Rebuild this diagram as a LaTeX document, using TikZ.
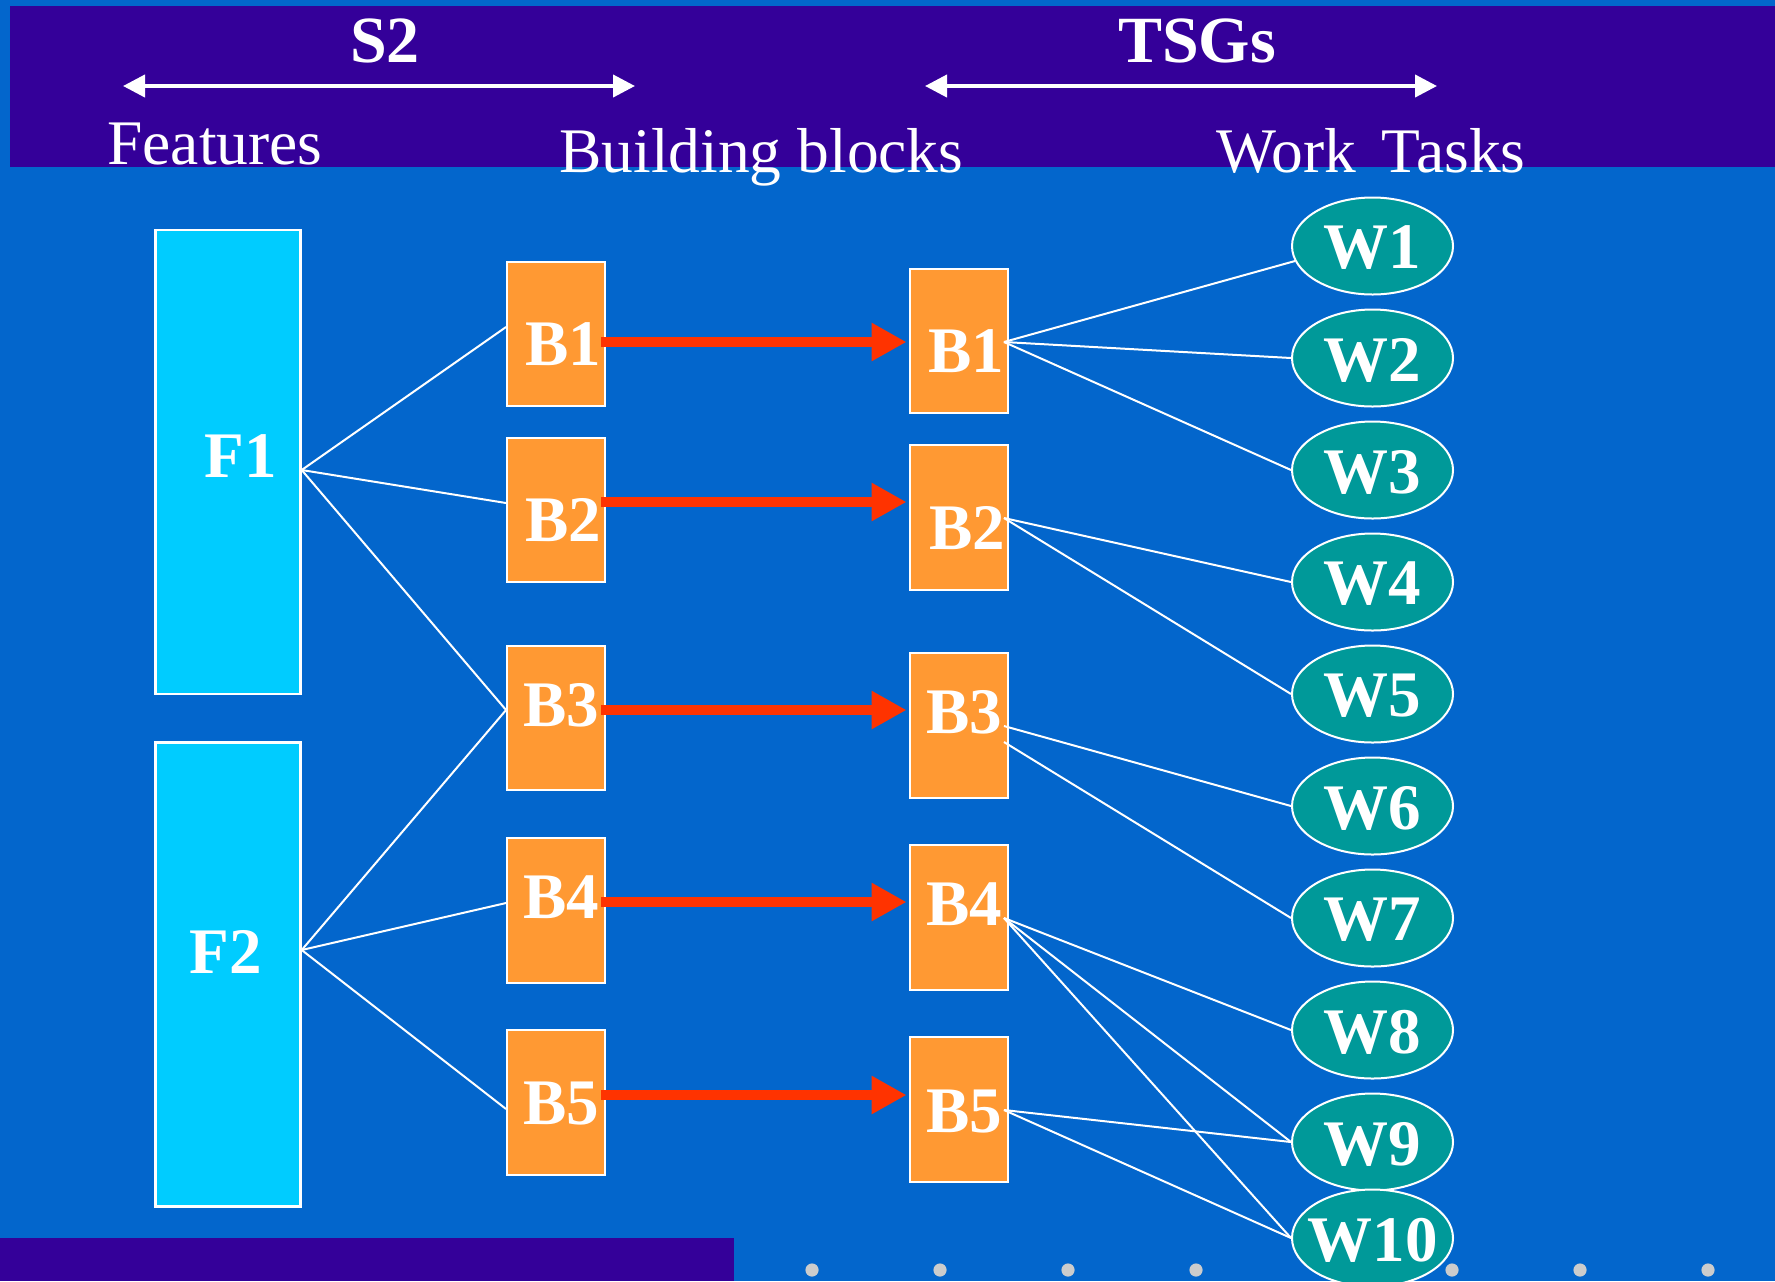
\documentclass[tikz,border=0pt]{standalone}
\usepackage{fontspec}
\setmainfont{Liberation Serif}
\usetikzlibrary{arrows.meta,calc,shapes.geometric}
\definecolor{bgblue}{HTML}{0366CC}
\definecolor{bandpurple}{HTML}{340099}
\definecolor{cyanbox}{HTML}{00CCFF}
\definecolor{orangebox}{HTML}{FF9933}
\definecolor{tealw}{HTML}{009999}
\definecolor{redarrow}{HTML}{FF3300}
\definecolor{dotgrey}{HTML}{CCCCCC}
\newcommand{\boldlabelfont}{\fontsize{32.5}{38}\selectfont\bfseries}
\newcommand{\headfont}{\fontsize{31.75}{38}\selectfont}
\begin{document}
\begin{tikzpicture}[x=0.5pt,y=-0.5pt,
  fbox/.style={draw=white,line width=1.2pt,fill=cyanbox,minimum width=72.5pt,minimum height=232pt,inner sep=0pt},
  bbox/.style={draw=white,line width=1.2pt,fill=orangebox,minimum width=48.75pt,minimum height=72.25pt,inner sep=0pt},
  wnode/.style={ellipse,draw=white,line width=1pt,fill=tealw,minimum width=80.5pt,minimum height=48.5pt,inner sep=0pt},
  lbl/.style={text=white,inner sep=0pt,font=\boldlabelfont},
  head/.style={text=white,inner sep=0pt,font=\headfont},
  boldhead/.style={text=white,inner sep=0pt,font=\fontsize{33}{40}\selectfont\bfseries},
  link/.style={draw=white,line width=1pt},
  span/.style={draw=white,line width=2pt,{Triangle[length=11pt,width=11pt]}-{Triangle[length=11pt,width=11pt]}},
  redarr/.style={draw=redarrow,line width=4.7pt,-{Triangle[length=17.5pt,width=18pt]}}
]
% background and bands
\fill[bgblue] (0,0) rectangle (1775,1281);
\useasboundingbox (0,0) rectangle (1775,1281);
\fill[bandpurple] (10,6) rectangle (1775,167);
\fill[bandpurple] (0,1238) rectangle (734,1281);
\foreach \dx in {812,940,1068,1196,1324,1452,1580,1708}
  \fill[dotgrey] (\dx,1270) circle[radius=3.3pt];

% headings
\node[boldhead,anchor=base] (s2) at (385,62) {S2};
\node[boldhead,anchor=base] (tsgs) at (1197,62) {TSGs};
\coordinate (s2l) at (123,86);
\coordinate (s2r) at (635,86);
\coordinate (tsgl) at (925,86);
\coordinate (tsgr) at (1437,86);
\draw[span] (s2l) -- (s2r);
\draw[span] (tsgl) -- (tsgr);
\node[head,anchor=base west] (feat) at (107,164) {Features};
\node[head,anchor=base west] (bblk) at (559,172) {Building blocks};
\node[head,anchor=base west] (wtask) at (1216,172) {Work\hspace{5pt} Tasks};

% feature boxes
\node[fbox] (F1) at (228,462) {};
\node[fbox] (F2) at (228,974.5) {};

% building blocks, left column
\node[bbox] (lB1) at (556,334) {};
\node[bbox] (lB2) at (556,510) {};
\node[bbox] (lB3) at (556,718) {};
\node[bbox] (lB4) at (556,910.5) {};
\node[bbox] (lB5) at (556,1102.5) {};

% building blocks, right column
\node[bbox] (rB1) at (959,341) {};
\node[bbox] (rB2) at (959,517.5) {};
\node[bbox] (rB3) at (959,725.5) {};
\node[bbox] (rB4) at (959,917.5) {};
\node[bbox] (rB5) at (959,1109.5) {};

% work tasks
\node[wnode] (W1) at (1372.5,246) {};
\node[wnode] (W2) at (1372.5,358) {};
\node[wnode] (W3) at (1372.5,470) {};
\node[wnode] (W4) at (1372.5,582) {};
\node[wnode] (W5) at (1372.5,694) {};
\node[wnode] (W6) at (1372.5,806) {};
\node[wnode] (W7) at (1372.5,918) {};
\node[wnode] (W8) at (1372.5,1030) {};
\node[wnode] (W9) at (1372.5,1142) {};
\node[wnode] (W10) at (1372.5,1238) {};

% links features -> blocks
\draw[link] ($(F1.east)+(0,8)$) -- ($(lB1.west)+(0,-7)$);
\draw[link] ($(F1.east)+(0,8)$) -- ($(lB2.west)+(0,-7)$);
\draw[link] ($(F1.east)+(0,8)$) -- ($(lB3.west)+(0,-8)$);
\draw[link] ($(F2.east)+(0,-24.5)$) -- ($(lB3.west)+(0,-8)$);
\draw[link] ($(F2.east)+(0,-24.5)$) -- ($(lB4.west)+(0,-7.5)$);
\draw[link] ($(F2.east)+(0,-24.5)$) -- ($(lB5.west)+(0,6.5)$);

% links blocks -> work tasks
\draw[link] ($(rB1.east)+(-5,1)$) -- ($(W1.west)+(4,15)$);
\draw[link] ($(rB1.east)+(-5,1)$) -- (W2.west);
\draw[link] ($(rB1.east)+(-5,1)$) -- (W3.west);
\draw[link] ($(rB2.east)+(-5,0.5)$) -- (W4.west);
\draw[link] ($(rB2.east)+(-5,0.5)$) -- (W5.west);
\draw[link] ($(rB3.east)+(-5,0.5)$) -- (W6.west);
\draw[link] ($(rB3.east)+(-5,16.5)$) -- (W7.west);
\draw[link] ($(rB4.east)+(-5,0.5)$) -- (W8.west);
\draw[link] ($(rB4.east)+(-5,0.5)$) -- (W9.west);
\draw[link] ($(rB4.east)+(-5,0.5)$) -- (W10.west);
\draw[link] ($(rB5.east)+(-5,0.5)$) -- (W9.west);
\draw[link] ($(rB5.east)+(-5,0.5)$) -- (W10.west);

% red arrows
\draw[redarr] ($(lB1.east)+(-4.5,8)$) -- ($(rB1.west)+(-2.5,1)$);
\draw[redarr] ($(lB2.east)+(-4.5,-8)$) -- ($(rB2.west)+(-2.5,-15.5)$);
\draw[redarr] ($(lB3.east)+(-4.5,-8)$) -- ($(rB3.west)+(-2.5,-15.5)$);
\draw[redarr] ($(lB4.east)+(-4.5,-8.5)$) -- ($(rB4.west)+(-2.5,-15.5)$);
\draw[redarr] ($(lB5.east)+(-4.5,-7.5)$) -- ($(rB5.west)+(-2.5,-14.5)$);

% labels
\node[lbl] (F1t) at (241,456) {F1};
\node[lbl] (F2t) at (226,952) {F2};
\node[lbl] (lB1t) at (563,344) {B1};
\node[lbl] (lB2t) at (563,520) {B2};
\node[lbl] (lB3t) at (561,705) {B3};
\node[lbl] (lB4t) at (561,897) {B4};
\node[lbl] (lB5t) at (561,1104) {B5};
\node[lbl] (rB1t) at (966,351) {B1};
\node[lbl] (rB2t) at (967,528) {B2};
\node[lbl] (rB3t) at (964,712) {B3};
\node[lbl] (rB4t) at (964,904) {B4};
\node[lbl] (rB5t) at (964,1112) {B5};
\foreach \i in {1,...,10}
  \node[lbl] (W\i t) at ($(W\i.center)+(0,2)$) {W\i};
\end{tikzpicture}
\end{document}
